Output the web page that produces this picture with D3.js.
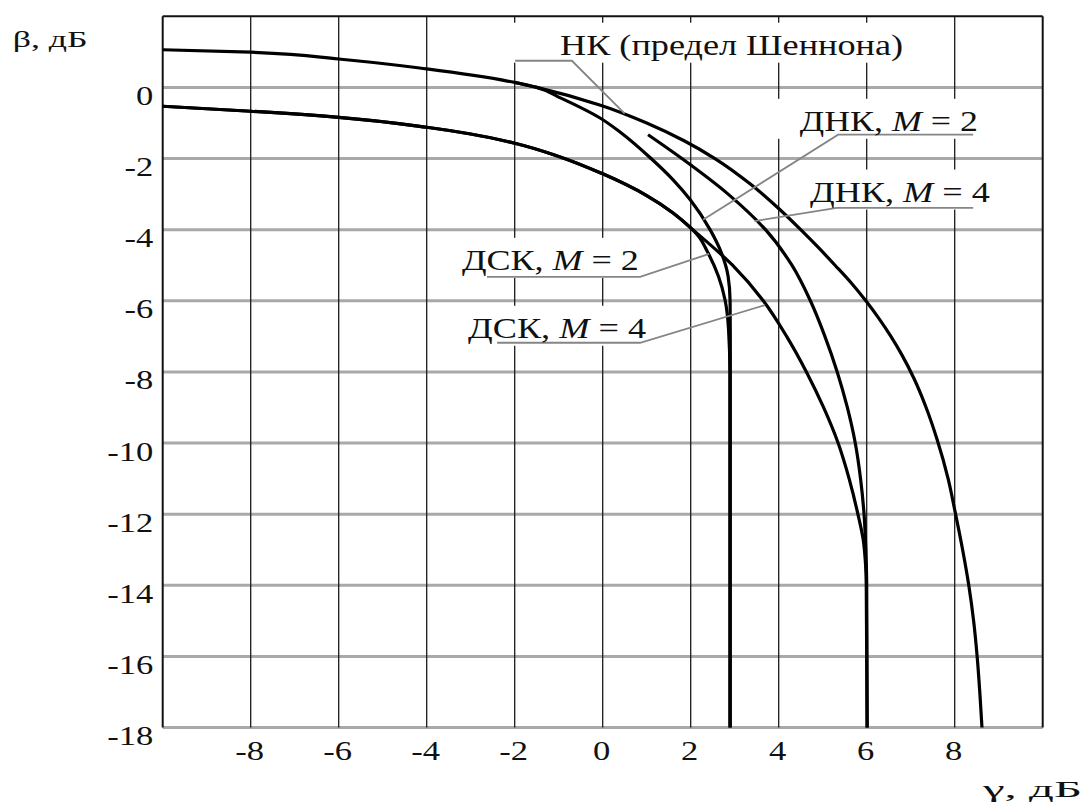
<!DOCTYPE html>
<html>
<head>
<meta charset="utf-8">
<script src="https://cdn.jsdelivr.net/npm/d3@7/dist/d3.min.js"></script>
<style>
  html, body { margin: 0; padding: 0; background: #fff; }
  svg { display: block; }
</style>
</head>
<body>
<svg id="chart" width="1085" height="804"></svg>
<script>
// ---------------- DATA ----------------
const gammaTicks = [-8, -6, -4, -2, 0, 2, 4, 6, 8];
const betaTicks = [0, -2, -4, -6, -8, -10, -12, -14, -16, -18];

// [gamma dB, beta dB]
const shannonNK = [[-10, 1.06], [-8, 0.99], [-6, 0.80], [-4, 0.52], [-2, 0.14], [-1.5, 0.0],
  [-0.05, -0.5], [1.0, -1.0], [1.85, -1.5], [2.55, -2.0], [3.37, -2.73], [4.03, -3.44], [4.5, -4.0],
  [4.9, -4.5], [5.28, -5.0], [5.65, -5.5], [5.98, -6.0], [6.28, -6.5], [6.55, -7.0], [6.79, -7.5],
  [7.08, -8.2], [7.35, -9.0], [7.6, -9.9], [7.85, -11.0], [8.02, -12.0], [8.18, -13.0], [8.32, -14.0],
  [8.43, -15.0], [8.51, -16.0], [8.57, -17.0], [8.62, -18]];

const dnkM2 = [[-2, 0.14], [-1.5, 0.0], [-0.95, -0.3], [-0.06, -0.86], [0.4, -1.26], [1.1, -2.0],
  [1.6, -2.6], [1.99, -3.16], [2.44, -4.0], [2.7, -4.66], [2.85, -5.31], [2.895, -6.0], [2.9, -7.0], [2.9, -18]];

const dnkM4 = [[1.03, -1.33], [1.8, -2.0], [2.85, -3.0], [3.7, -4.0], [4.3, -5.0], [4.72, -6.0],
  [5.05, -7.0], [5.33, -8.0], [5.56, -9.0], [5.74, -10.0], [5.86, -11.0], [5.94, -12.0], [5.98, -13.0],
  [6.0, -14.0], [6.01, -18]];

const dskM2 = [[-10, -0.53], [-8, -0.67], [-6, -0.84], [-4, -1.12], [-3, -1.31], [-2, -1.57], [-1, -1.94],
  [0, -2.43], [1, -3.04], [1.6, -3.53], [2.0, -3.95], [2.2, -4.22], [2.36, -4.57], [2.63, -5.31],
  [2.78, -5.97], [2.86, -6.8], [2.89, -8.0], [2.89, -18]];

const dskM4 = [[-10, -0.53], [-8, -0.67], [-6, -0.84], [-4, -1.12], [-3, -1.31], [-2, -1.57], [-1, -1.94],
  [0, -2.43], [1, -3.04], [1.6, -3.53], [2.0, -3.95], [2.95, -5.0], [3.65, -6.0], [4.18, -7.0], [4.63, -8.0],
  [5.02, -9.0], [5.35, -10.0], [5.6, -11.0], [5.8, -12.0], [5.93, -12.8], [5.99, -14.0], [6.01, -18]];

// leader lines (gamma, beta)
const nkLeader = [[-1.99, 0.75], [-0.70, 0.75], [0.5, -0.74]];
const dnkM2Leader = [[8.42, -1.33], [5.35, -1.33], [2.28, -3.72]];
const dnkM4Leader = [[8.42, -3.39], [5.32, -3.39], [3.45, -3.76]];
const dskM2Leader = [[-2.63, -5.33], [0.85, -5.33], [2.42, -4.68]];
const dskM4Leader = [[-2.4, -7.18], [0.85, -7.18], [3.69, -6.12]];

// ---------------- CHART ----------------
const FONT = "Liberation Serif";
const svg = d3.select("#chart");
svg.append("rect").attr("width", 1085).attr("height", 804).attr("fill", "#fff");

const x = d3.scaleLinear().domain([-10, 10]).range([162.7, 1042.7]);
const y = d3.scaleLinear().domain([-18, 2]).range([727.5, 16.3]);

// horizontal grid (gray)
svg.append("g").selectAll("line").data(betaTicks).join("line")
  .attr("x1", x(-10)).attr("x2", x(10))
  .attr("y1", d => y(d)).attr("y2", d => y(d))
  .attr("stroke", "#a9a9a9").attr("stroke-width", 3);

// vertical grid (black)
svg.append("g").selectAll("line").data(gammaTicks).join("line")
  .attr("x1", d => x(d)).attr("x2", d => x(d))
  .attr("y1", y(2)).attr("y2", y(-18))
  .attr("stroke", "#1a1a1a").attr("stroke-width", 1.3);

// frame: left, right, top
const frame = svg.append("g").attr("stroke", "#111").attr("stroke-width", 2);
frame.append("line").attr("x1", x(-10)).attr("x2", x(-10)).attr("y1", y(2)).attr("y2", y(-18));
frame.append("line").attr("x1", x(10)).attr("x2", x(10)).attr("y1", y(2)).attr("y2", y(-18));
frame.append("line").attr("x1", x(-10)).attr("x2", x(10)).attr("y1", y(2)).attr("y2", y(2));

// labels config (anchor in data coords)
const labels = [
  { parts: [["НК (предел Шеннона)", false]], g: -0.97, b: 0.92, len: 343, padL: 50, leader: nkLeader },
  { parts: [["ДНК, ", false], ["M", true], [" = 2", false]], g: 4.48, b: -1.22, len: 178, padL: 25, leader: dnkM2Leader },
  { parts: [["ДНК, ", false], ["M", true], [" = 4", false]], g: 4.71, b: -3.21, len: 180, padL: 12, leader: dnkM4Leader },
  { parts: [["ДСК, ", false], ["M", true], [" = 2", false]], g: -3.2, b: -5.13, len: 177, padL: 17, leader: dskM2Leader },
  { parts: [["ДСК, ", false], ["M", true], [" = 4", false]], g: -3.06, b: -7.04, len: 178, padL: 12, leader: dskM4Leader }
];

// white backgrounds behind labels
svg.append("g").selectAll("rect").data(labels).join("rect")
  .attr("x", d => x(d.g) - d.padL)
  .attr("y", d => y(d.b) - 32)
  .attr("width", d => d.len + d.padL + 10)
  .attr("height", 40)
  .attr("fill", "#fff");

// curves (beta strictly decreasing along each curve -> monotone in y)
const line = d3.line().x(d => x(d[0])).y(d => y(d[1])).curve(d3.curveMonotoneY);
const series = [shannonNK, dnkM2, dnkM4, dskM2, dskM4];
svg.append("g").selectAll("path").data(series).join("path")
  .attr("d", line)
  .attr("fill", "none")
  .attr("stroke", "#000")
  .attr("stroke-width", 3.2)
  .attr("stroke-linejoin", "round");

// leader lines
const leaderLine = d3.line().x(d => x(d[0])).y(d => y(d[1]));
svg.append("g").selectAll("path").data(labels).join("path")
  .attr("d", d => leaderLine(d.leader))
  .attr("fill", "none")
  .attr("stroke", "#858585")
  .attr("stroke-width", 1.8);

// label texts
const lt = svg.append("g").selectAll("text").data(labels).join("text")
  .attr("x", d => x(d.g))
  .attr("y", d => y(d.b))
  .attr("textLength", d => d.len)
  .attr("lengthAdjust", "spacingAndGlyphs")
  .style("font-family", FONT)
  .style("font-size", "30px")
  .attr("fill", "#111");
lt.each(function (d) {
  const t = d3.select(this);
  d.parts.forEach(p => {
    t.append("tspan").text(p[0]).style("font-style", p[1] ? "italic" : "normal");
  });
});

// axes
const yAxis = d3.axisLeft(y).tickValues(betaTicks).tickSize(0).tickPadding(0).tickFormat(d => String(d));
const gy = svg.append("g").attr("transform", `translate(${x(-10)},0)`).call(yAxis)
  .attr("font-family", null).attr("font-size", null);
gy.select(".domain").remove();
gy.selectAll("text")
  .attr("x", null).attr("dy", null)
  .attr("transform", "translate(-9.4,17) scale(1.28,1)")
  .style("font-family", FONT)
  .style("font-size", "27px").attr("fill", "#111");

const xAxis = d3.axisBottom(x).tickValues(gammaTicks).tickSize(0).tickPadding(0).tickFormat(d => String(d));
const gx = svg.append("g").attr("transform", `translate(0,${y(-18)})`).call(xAxis)
  .attr("font-family", null).attr("font-size", null);
gx.select(".domain").remove();
gx.selectAll("text")
  .attr("y", null).attr("dy", null)
  .attr("transform", "translate(-1.5,32) scale(1.28,1)")
  .style("font-family", FONT)
  .style("font-size", "27px").attr("fill", "#111");

// axis titles
svg.append("text").attr("x", 12.7).attr("y", 46.5)
  .attr("textLength", 75).attr("lengthAdjust", "spacingAndGlyphs")
  .style("font-family", FONT).style("font-size", "24px").attr("fill", "#111")
  .text("β, дБ");
svg.append("text").attr("x", 983).attr("y", 797)
  .attr("textLength", 99).attr("lengthAdjust", "spacingAndGlyphs")
  .style("font-family", FONT).style("font-size", "24px").attr("fill", "#111")
  .text("γ, дБ");
</script>
</body>
</html>
